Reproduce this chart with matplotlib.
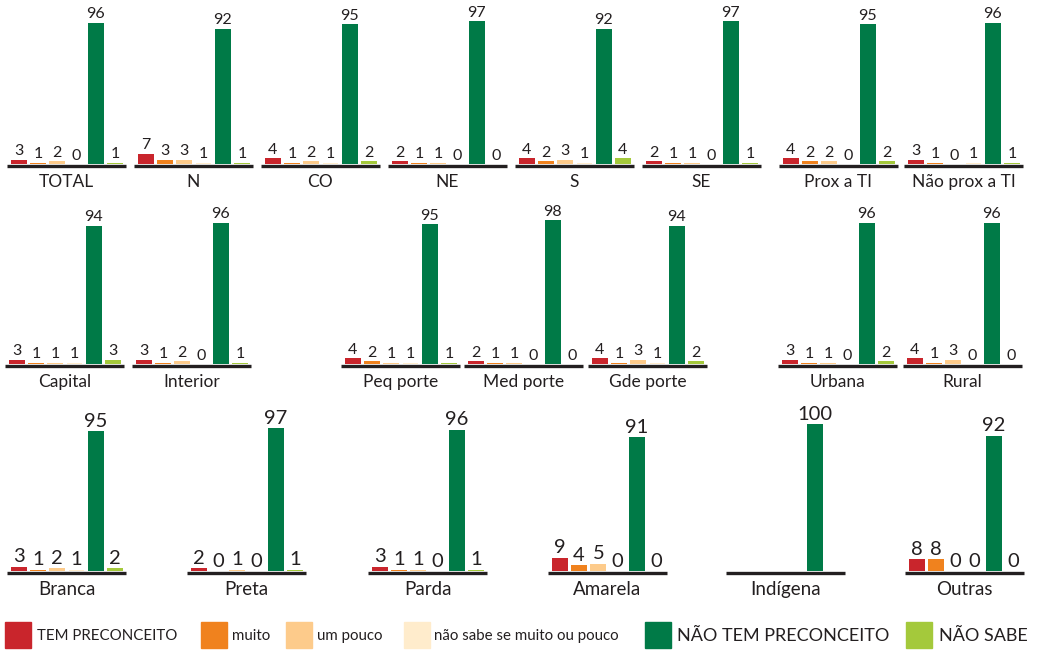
import numpy as np
import matplotlib.pyplot as plt
from matplotlib.patches import Rectangle
from matplotlib.transforms import offset_copy

plt.rcParams['font.family'] = ['Lato', 'DejaVu Sans']

series = ["TEM PRECONCEITO", "muito", "um pouco", "não sabe se muito ou pouco",
          "NÃO TEM PRECONCEITO", "NÃO SABE"]
colors = ["#C9252C", "#F0821E", "#FDCB8B", "#FFECCC", "#007A47", "#A4C93B"]

# row 1: total, regions and proximity to indigenous lands
row1_names = ["TOTAL", "N", "CO", "NE", "S", "SE", "Prox a TI", "Não prox a TI"]
row1_values = [
    [3, 1, 2, 0, 96, 1],
    [7, 3, 3, 1, 92, 1],
    [4, 1, 2, 1, 95, 2],
    [2, 1, 1, 0, 97, 0],
    [4, 2, 3, 1, 92, 4],
    [2, 1, 1, 0, 97, 1],
    [4, 2, 2, 0, 95, 2],
    [3, 1, 0, 1, 96, 1],
]

# row 2: capital/interior, municipality size, urban/rural
row2_names = ["Capital", "Interior", "Peq porte", "Med porte", "Gde porte",
              "Urbana", "Rural"]
row2_values = [
    [3, 1, 1, 1, 94, 3],
    [3, 1, 2, 0, 96, 1],
    [4, 2, 1, 1, 95, 1],
    [2, 1, 1, 0, 98, 0],
    [4, 1, 3, 1, 94, 2],
    [3, 1, 1, 0, 96, 2],
    [4, 1, 3, 0, 96, 0],
]

# row 3: race / colour
row3_names = ["Branca", "Preta", "Parda", "Amarela", "Indígena", "Outras"]
row3_values = [
    [3, 1, 2, 1, 95, 2],
    [2, 0, 1, 0, 97, 1],
    [3, 1, 1, 0, 96, 1],
    [9, 4, 5, 0, 91, 0],
    [None, None, None, None, 100, None],
    [8, 8, 0, 0, 92, 0],
]

W, H = 1038, 650
fig = plt.figure(figsize=(W / 100, H / 100), dpi=100)

PANEL_W = 119
PLOT_H = 147  # pixels for 0..100
INK = "#231F20"


def panel(left, base, name, vals, val_fs, name_fs):
    ax = fig.add_axes([left / W, 1 - base / H, PANEL_W / W, PLOT_H / H])
    x = np.arange(6)
    for i, v in enumerate(vals):
        if v is None:
            continue
        if v > 0:
            ax.bar(x[i], v, width=0.83, color=colors[i])
        ax.annotate(str(v), (x[i], v), xytext=(0, 1), textcoords="offset points",
                    ha="center", va="bottom", fontsize=val_fs, color=INK)
    ax.set_xlim(-0.62, 5.58)
    ax.set_ylim(0, 100)
    ax.axis("off")
    # thick base line sitting just under the bars
    base_tr = offset_copy(ax.transAxes, fig=fig, y=-1.3, units="points")
    ax.plot([0, 1], [0, 0], transform=base_tr, color=INK, lw=2.4,
            solid_capstyle="butt", clip_on=False)
    ax.annotate(name, (0.5, 0), xycoords="axes fraction", xytext=(0, -7),
                textcoords="offset points", ha="center", va="top",
                fontsize=name_fs, color=INK)


row1_left = [7, 134, 261, 388, 515, 642, 779, 904]
row2_left = [5, 132, 341, 464, 588, 778, 903]
row3_left = [7, 187, 368, 548, 726, 905]

for l, n, v in zip(row1_left, row1_names, row1_values):
    panel(l, 164, n, v, 11.5, 12.5)
for l, n, v in zip(row2_left, row2_names, row2_values):
    panel(l, 364, n, v, 11.5, 12.5)
for l, n, v in zip(row3_left, row3_names, row3_values):
    panel(l, 571, n, v, 14.5, 13.5)

# legend along the bottom
sw_left = [5, 201, 286, 404, 645, 906]
txt_left = [37, 232, 317, 434, 677, 939]
txt_fs = [10.8, 10.8, 10.8, 10.8, 13, 13]
for i in range(6):
    fig.patches.append(Rectangle((sw_left[i] / W, 1 - 648 / H), 26 / W, 26 / H,
                                 transform=fig.transFigure, color=colors[i]))
    fig.text(txt_left[i] / W, 1 - 636 / H, series[i], ha="left", va="center",
             fontsize=txt_fs[i], color=INK)

fig.savefig("out.png", dpi=100)
